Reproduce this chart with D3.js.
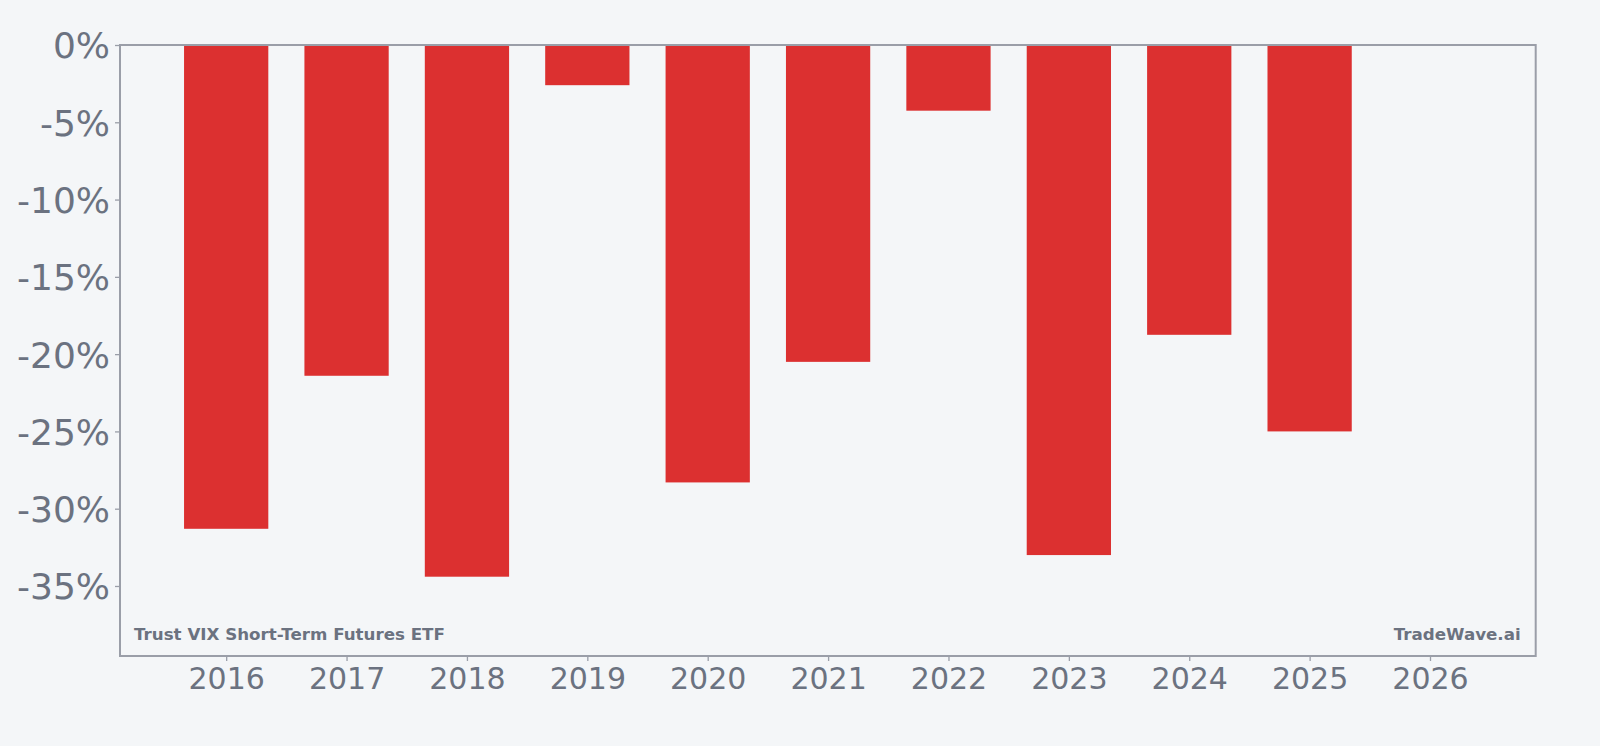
<!DOCTYPE html>
<html>
<head>
<meta charset="utf-8">
<script src="https://cdn.jsdelivr.net/npm/d3@7"></script>
<style>
  html, body { margin: 0; padding: 0; background: #f4f6f8; }
  svg { display: block; }
</style>
</head>
<body>
<script>
// Yearly returns (%)
const years = [2016, 2017, 2018, 2019, 2020, 2021, 2022, 2023, 2024, 2025];
const returns = [-31.3, -21.4, -34.4, -2.6, -28.3, -20.5, -4.25, -33.0, -18.75, -25.0];
const xTicks = [2016, 2017, 2018, 2019, 2020, 2021, 2022, 2023, 2024, 2025, 2026];
const yTicks = [0, -5, -10, -15, -20, -25, -30, -35];
const title = "Trust VIX Short-Term Futures ETF";
const brand = "TradeWave.ai";

const width = 1600, height = 746;
const margin = { top: 45, right: 64.3, bottom: 90, left: 120 };
const font = "'DejaVu Sans', sans-serif";

const svg = d3.select("body").append("svg")
    .attr("width", width)
    .attr("height", height)
    .style("font-family", font);

svg.append("rect")
    .attr("width", width)
    .attr("height", height)
    .attr("fill", "#f4f6f8");

// Axis scales
const x = d3.scaleLinear()
    .domain([2015.118, 2026.878])
    .range([margin.left, width - margin.right]);

const y = d3.scaleLinear()
    .domain([-39.53, 0])
    .range([height - margin.bottom, margin.top]);

const barWidth = x(2016.35) - x(2015.65);

// Bars
svg.append("g")
    .selectAll("rect")
    .data(years.map((yr, i) => ({ yr, v: returns[i] })))
    .join("rect")
    .attr("x", d => x(d.yr) - barWidth / 2)
    .attr("y", y(0))
    .attr("width", barWidth)
    .attr("height", d => y(d.v) - y(0))
    .attr("fill", "#dc3030");

const axisColor = "#9a9ea8";
const textColor = "#6b7280";

// Y axis
const yAxis = svg.append("g")
    .attr("transform", `translate(${margin.left},0)`)
    .call(d3.axisLeft(y).tickValues(yTicks).tickFormat(d => `${d}%`).tickSize(5).tickPadding(5))
    .attr("font-family", font);
yAxis.select(".domain").remove();
yAxis.selectAll(".tick line").attr("stroke", axisColor).attr("stroke-width", 1.3);
yAxis.selectAll(".tick text")
    .attr("fill", textColor)
    .style("font-family", font)
    .style("font-size", "36px")
    .attr("dy", "0.36em");

// X axis
const xAxis = svg.append("g")
    .attr("transform", `translate(0,${height - margin.bottom})`)
    .call(d3.axisBottom(x).tickValues(xTicks).tickFormat(d3.format("d")).tickSize(5).tickPadding(7))
    .attr("font-family", font);
xAxis.select(".domain").remove();
xAxis.selectAll(".tick line").attr("stroke", axisColor).attr("stroke-width", 1.3);
xAxis.selectAll(".tick text")
    .attr("fill", textColor)
    .style("font-family", font)
    .style("font-size", "30px");

// Frame
svg.append("rect")
    .attr("x", margin.left)
    .attr("y", margin.top)
    .attr("width", width - margin.left - margin.right)
    .attr("height", height - margin.top - margin.bottom)
    .attr("fill", "none")
    .attr("stroke", axisColor)
    .attr("stroke-width", 2);

// Watermarks
svg.append("text")
    .attr("x", margin.left + 14)
    .attr("y", height - margin.bottom - 16)
    .attr("fill", textColor)
    .style("font-size", "16.7px")
    .style("font-weight", "bold")
    .text(title);

svg.append("text")
    .attr("x", width - margin.right - 15)
    .attr("y", height - margin.bottom - 16)
    .attr("text-anchor", "end")
    .attr("fill", textColor)
    .style("font-size", "16.7px")
    .style("font-weight", "bold")
    .text(brand);
</script>
</body>
</html>
